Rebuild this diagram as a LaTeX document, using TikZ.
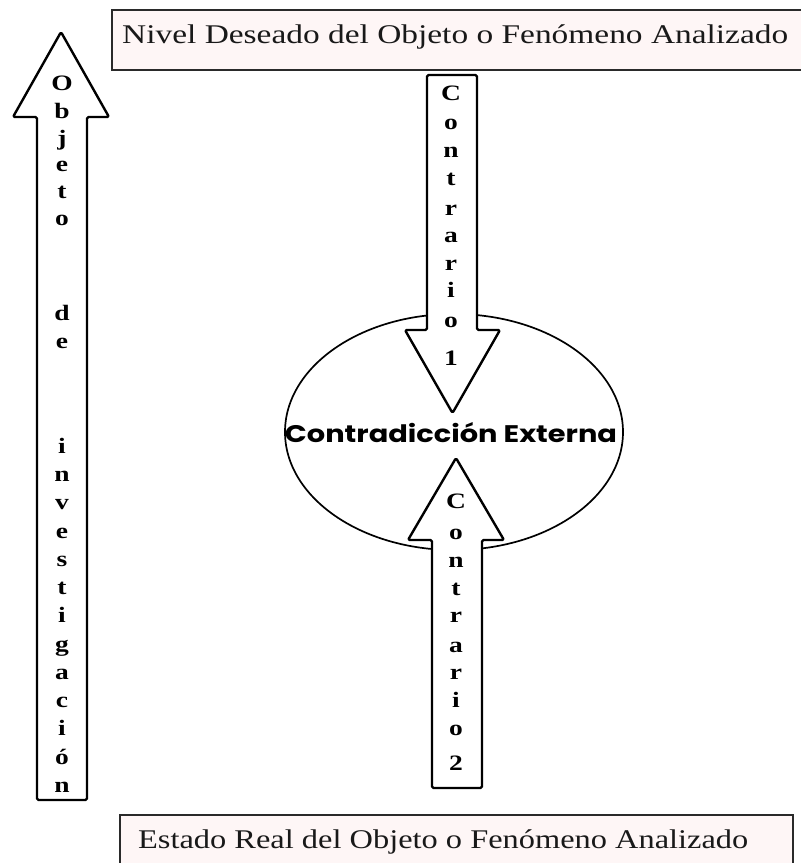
\documentclass[tikz,border=0pt]{standalone}
\usepackage{fontspec}
\setmainfont{Liberation Serif}
\newfontfamily\popfont{Poppins}
\usetikzlibrary{shapes.geometric}
\definecolor{boxfill}{HTML}{FEF6F6}
\definecolor{boxline}{HTML}{2A2A2A}
\tikzset{
  boxstyle/.style={draw=boxline, line width=2.8pt, fill=boxfill, inner sep=0pt},
  boxtext/.style={anchor=base west, inner sep=0pt, font=\fontsize{27}{30}\selectfont, text=black!90},
  blockarrow/.style={draw=black, line width=2.4pt, fill=white, rounded corners=1.5pt, line join=round},
  lett/.style={anchor=base, inner sep=0pt, font=\bfseries\fontsize{22}{24}\selectfont},
  ellstyle/.style={ellipse, draw=black, line width=1.7pt, inner sep=0pt},
  centertext/.style={anchor=base, inner sep=0pt, font=\popfont\bfseries\fontsize{24}{26}\selectfont}
}
\begin{document}
\begin{tikzpicture}[x=1pt, y=-1pt]
\useasboundingbox (0,0) rectangle (801,863);
% top and bottom boxes
\node (topbox) [boxstyle, minimum width=692pt, minimum height=60pt] at (458,40) {};
\node (toptext) [boxtext] at (122,43) {\resizebox{666pt}{\height}{Nivel Deseado del Objeto o Fenómeno Analizado}};
\node (botbox) [boxstyle, minimum width=673pt, minimum height=70pt] at (456.5,850) {};
\node (bottext) [boxtext] at (138,848) {\resizebox{610pt}{\height}{Estado Real del Objeto o Fenómeno Analizado}};
% ellipse
\node (contra) [ellstyle, minimum width=338pt, minimum height=236pt] at (454,432) {};
% left arrow
\draw[blockarrow] (37,800) -- (87,800) -- (87,117) -- (109,117) -- (61,32) -- (13,117) -- (37,117) -- cycle;
% arrow 1 (down)
\draw[blockarrow] (427,75) -- (477,75) -- (477,330) -- (500,330) -- (452.5,413) -- (405,330) -- (427,330) -- cycle;
% arrow 2 (up)
\draw[blockarrow] (432,788) -- (482,788) -- (482,540) -- (504,540) -- (456,458) -- (408,540) -- (432,540) -- cycle;
% letters of left arrow
\foreach \ch/\yy [count=\n] in {O/90, b/118, j/145, e/171, t/198, o/225, d/320, e/348, i/453, n/481, v/509, e/538, s/566, t/594, i/622, g/651, a/679, c/707, i/735, ó/764, n/792}
  \node (lo\n) [lett] at (62,\yy) {\scalebox{1.25}[1]{\ch}};
% letters of arrow 1
\foreach \ch/\yy [count=\n] in {C/100, o/129, n/157, t/185, r/215, a/242, r/270, i/297, o/327, 1/365}
  \node (la\n) [lett] at (451,\yy) {\scalebox{1.25}[1]{\ch}};
% letters of arrow 2
\foreach \ch/\yy [count=\n] in {C/508, o/539, n/567, t/595, r/622, a/652, r/679, i/707, o/735, 2/770}
  \node (lb\n) [lett] at (456,\yy) {\scalebox{1.25}[1]{\ch}};
% center text
\node (contratext) [centertext] at (451,442) {\resizebox{332pt}{\height}{Contradicción Externa}};
\end{tikzpicture}
\end{document}
